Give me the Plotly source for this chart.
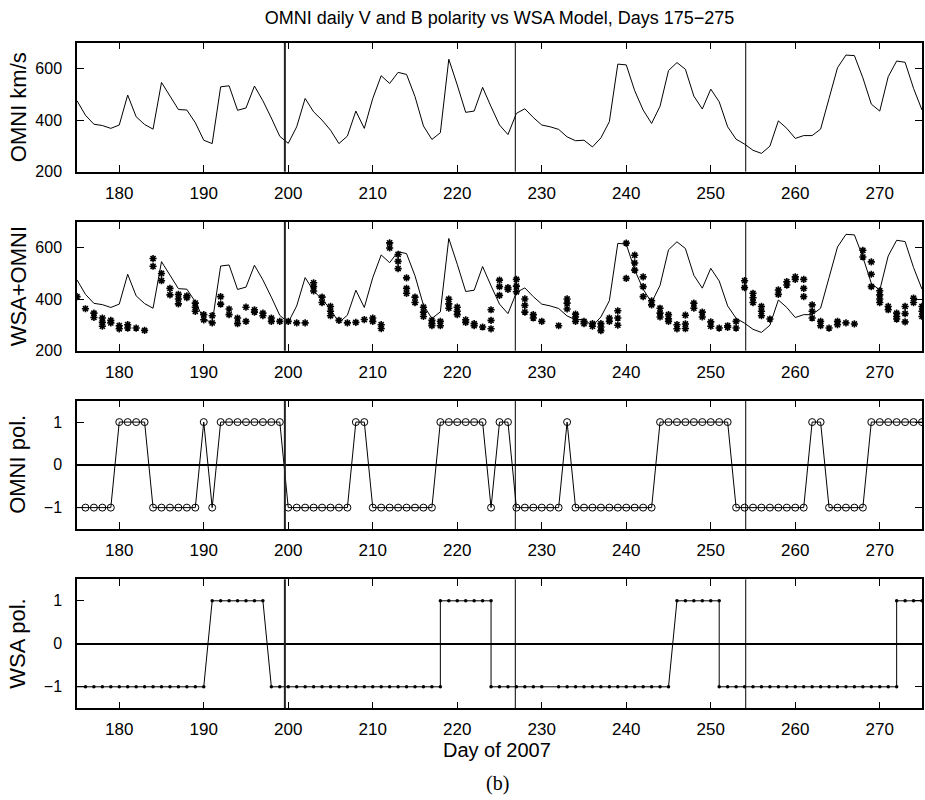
import plotly.graph_objects as go

# ---------------- data ----------------
days = list(range(175, 276))

omni_speed = [475, 419, 384, 379, 368, 381, 497, 413, 383, 365,
              546, 491, 441, 439, 390, 322, 309, 529, 533, 438,
              447, 532, 475, 408, 337, 310, 374, 484, 432, 400,
              361, 309, 338, 435, 368, 484, 572, 542, 585, 577,
              491, 377, 325, 351, 636, 536, 430, 435, 527, 452,
              381, 344, 426, 444, 410, 381, 374, 364, 335, 320,
              322, 296, 331, 394, 617, 614, 514, 439, 387, 454,
              592, 623, 597, 493, 443, 520, 471, 374, 326, 307,
              283, 271, 299, 397, 368, 329, 340, 340, 365, 484,
              603, 652, 650, 564, 462, 435, 568, 629, 624, 523, 439]

# WSA model speeds: several predictions per day
wsa_stars = [
    (175, [410]), (176, [363]), (177, [346, 329]), (178, [327, 310, 295]),
    (179, [318, 308]), (180, [297, 285]), (181, [301, 288]), (182, [288]),
    (183, [279]), (184, [558, 528]), (185, [500, 472]), (186, [442, 417]),
    (187, [419, 401, 382]), (188, [413, 406]), (189, [385, 369, 353]),
    (190, [340, 320]), (191, [336, 308]), (192, [410, 381]), (193, [362, 340]),
    (194, [327, 305]), (195, [369, 314]), (196, [359, 350]), (197, [346, 336]),
    (198, [327, 314]), (199, [314]), (200, [314]), (201, [308]), (202, [308]),
    (203, [464, 449, 432]), (204, [408, 387]), (205, [372, 353, 336]),
    (206, [318]), (207, [308]), (208, [310]), (209, [321]), (210, [327, 314]),
    (211, [301, 286]), (212, [619, 599]), (213, [574, 547, 519]),
    (214, [483, 442, 423]), (215, [408, 387]), (216, [369, 350, 333]),
    (217, [318, 305, 297]), (218, [314, 297]), (219, [400, 382, 365]),
    (220, [369, 353, 340]), (221, [320, 310]), (222, [305, 297]), (223, [292]),
    (224, [359, 318, 285]), (225, [474, 449, 415]), (226, [445, 438]),
    (227, [477, 451, 429]), (228, [401, 376, 350]), (229, [340, 327]),
    (230, [314]), (232, [297]), (233, [401, 385, 362]), (234, [342, 331, 314]),
    (235, [314, 305]), (236, [305, 295]), (237, [305, 292, 278]),
    (238, [327, 314]), (239, [355, 327, 299]), (240, [618, 481]),
    (241, [571, 541, 513]), (242, [487, 449, 410]), (243, [394, 378]),
    (244, [365, 346, 331]), (245, [340, 324, 314]), (246, [301, 285]),
    (247, [338, 304, 286]), (248, [385, 365]), (249, [350, 331]),
    (250, [312, 295]), (251, [288]), (252, [297, 291]), (253, [314, 288]),
    (254, [472, 445]), (255, [423, 406, 387]), (256, [372, 353, 336]),
    (257, [323]), (258, [436, 419]), (259, [468, 455]), (260, [487, 477]),
    (261, [477, 442, 410]), (262, [378, 353, 327]), (263, [314, 297]),
    (264, [288]), (265, [314, 301]), (266, [308]), (267, [304]),
    (268, [590, 564]), (269, [545, 497, 449]), (270, [433, 417, 401, 387]),
    (271, [372, 359]), (272, [346, 333, 323]), (273, [372, 344, 312]),
    (274, [404, 387]), (275, [372, 353, 333]),
]

omni_pol = ([-1] * 5 + [1] * 4 + [-1] * 6 + [1] + [-1] + [1] * 8 + [-1] * 8 +
            [1] * 2 + [-1] * 8 + [1] * 6 + [-1] + [1] * 2 + [-1] * 6 + [1] +
            [-1] * 10 + [1] * 9 + [-1] * 9 + [1] * 2 + [-1] * 5 + [1] * 7)

wsa_pol_days = (list(range(175, 191)) + list(range(191, 198)) + list(range(198, 219)) +
                list(range(218, 225)) + list(range(224, 231)) + list(range(232, 246)) +
                list(range(246, 252)) + list(range(251, 273)) + list(range(272, 276)))
wsa_pol = ([-1] * 16 + [1] * 7 + [-1] * 21 + [1] * 7 + [-1] * 7 + [-1] * 14 +
           [1] * 6 + [-1] * 22 + [1] * 4)

sector_lines = [199.6, 226.87, 254.14]
x_ticks = list(range(180, 271, 10))
y_titles = ["OMNI km/s", "WSA+OMNI", "OMNI pol.", "WSA pol."]

# ---------------- figure ----------------
FONT = "Liberation Sans, Arial, sans-serif"
H = 800.0
panels_px = [(42.7, 171.7), (222.0, 350.7), (400.7, 529.0), (579.3, 708.3)]
domains = [[1 - b / H, 1 - t / H] for (t, b) in panels_px]

fig = go.Figure()

line_style = dict(color="black", width=1)

# panel 1
fig.add_trace(go.Scatter(x=days, y=omni_speed, mode="lines", line=line_style,
                         xaxis="x", yaxis="y", showlegend=False))
# panel 2
fig.add_trace(go.Scatter(x=days, y=omni_speed, mode="lines", line=line_style,
                         xaxis="x2", yaxis="y2", showlegend=False))
star_x = [d for d, vals in wsa_stars for _ in vals]
star_y = [v for _, vals in wsa_stars for v in vals]
fig.add_trace(go.Scatter(x=star_x, y=star_y, mode="markers",
                         marker=dict(symbol="circle", size=3.5, color="black"),
                         xaxis="x2", yaxis="y2", showlegend=False))
fig.add_trace(go.Scatter(x=star_x, y=star_y, mode="markers",
                         marker=dict(symbol="asterisk-open", size=6, color="black",
                                     line=dict(color="black", width=1.6)),
                         xaxis="x2", yaxis="y2", showlegend=False))
# panel 3
fig.add_trace(go.Scatter(x=days, y=omni_pol, mode="lines", line=line_style,
                         xaxis="x3", yaxis="y3", showlegend=False))
fig.add_trace(go.Scatter(x=days[1:], y=omni_pol[1:], mode="markers",
                         marker=dict(symbol="circle-open", size=7, color="black",
                                     line=dict(color="black", width=1)),
                         xaxis="x3", yaxis="y3", showlegend=False))
# panel 4
fig.add_trace(go.Scatter(x=wsa_pol_days, y=wsa_pol, mode="lines", line=line_style,
                         xaxis="x4", yaxis="y4", showlegend=False))
fig.add_trace(go.Scatter(x=wsa_pol_days[1:], y=wsa_pol[1:], mode="markers",
                         marker=dict(symbol="circle", size=3.5, color="black"),
                         xaxis="x4", yaxis="y4", showlegend=False))

layout = dict(
    width=925, height=800,
    paper_bgcolor="white", plot_bgcolor="white",
    margin=dict(l=77, r=3, t=0, b=0, autoexpand=False),
    font=dict(family=FONT, color="black"),
    title=dict(text="OMNI daily V and B polarity vs WSA Model, Days 175\u2212275",
               x=(499.5 / 925), xanchor="center", xref="container",
               y=1 - 18 / H, yanchor="middle", yref="container",
               font=dict(size=18, family=FONT, color="black")),
)

yranges = [[200, 700], [200, 700], [-1.5, 1.5], [-1.5, 1.5]]
yticks = [[200, 400, 600], [200, 400, 600], [-1, 0, 1], [-1, 0, 1]]

for i in range(4):
    sfx = "" if i == 0 else str(i + 1)
    layout["xaxis" + sfx] = dict(
        domain=[0, 1], range=[175, 275], anchor="y" + sfx,
        tickvals=x_ticks, ticks="inside", ticklen=7, tickwidth=1, tickcolor="black",
        showline=True, linecolor="black", linewidth=1.5, mirror="ticks",
        showgrid=False, zeroline=False, tickfont=dict(size=17, family=FONT),
        ticklabelstandoff=5,
    )
    layout["yaxis" + sfx] = dict(
        domain=domains[i], range=yranges[i], anchor="x" + sfx,
        tickvals=yticks[i], ticks="inside", ticklen=7, tickwidth=1, tickcolor="black",
        showline=True, linecolor="black", linewidth=1.5, mirror="ticks",
        showgrid=False, zeroline=(i >= 2), zerolinecolor="black", zerolinewidth=1.5,
        tickfont=dict(size=16, family=FONT), ticklabelstandoff=10,
    )

shapes = []
for i in range(4):
    sfx = "" if i == 0 else str(i + 1)
    for k, xl in enumerate(sector_lines):
        shapes.append(dict(type="line", xref="x" + sfx, yref="y" + sfx + " domain",
                           x0=xl, x1=xl, y0=0, y1=1,
                           line=dict(color="#222" if k == 0 else "black",
                                     width=2 if k == 0 else 1)))
layout["shapes"] = shapes

annotations = []
for i, t in enumerate(y_titles):
    annotations.append(dict(text=t, textangle=-90, xref="paper", yref="paper",
                            x=(18 - 77) / 845, y=sum(domains[i]) / 2,
                            xanchor="center", yanchor="middle", showarrow=False,
                            font=dict(size=22, family=FONT, color="black")))
annotations.append(dict(text="Day of 2007", xref="paper", yref="paper",
                        x=(497 - 77) / 845, y=1 - 750 / H, xanchor="center",
                        yanchor="middle", showarrow=False,
                        font=dict(size=20, family=FONT, color="black")))
annotations.append(dict(text="(b)", xref="paper", yref="paper",
                        x=(497 - 77) / 845, y=1 - 783 / H, xanchor="center",
                        yanchor="middle", showarrow=False,
                        font=dict(size=20, family="Liberation Serif, Times New Roman, serif",
                                  color="black")))
layout["annotations"] = annotations

fig.update_layout(**layout)
fig.write_html("out.html", config={"displayModeBar": False},
               post_script="document.body.style.margin='0';document.body.style.overflow='hidden';")
